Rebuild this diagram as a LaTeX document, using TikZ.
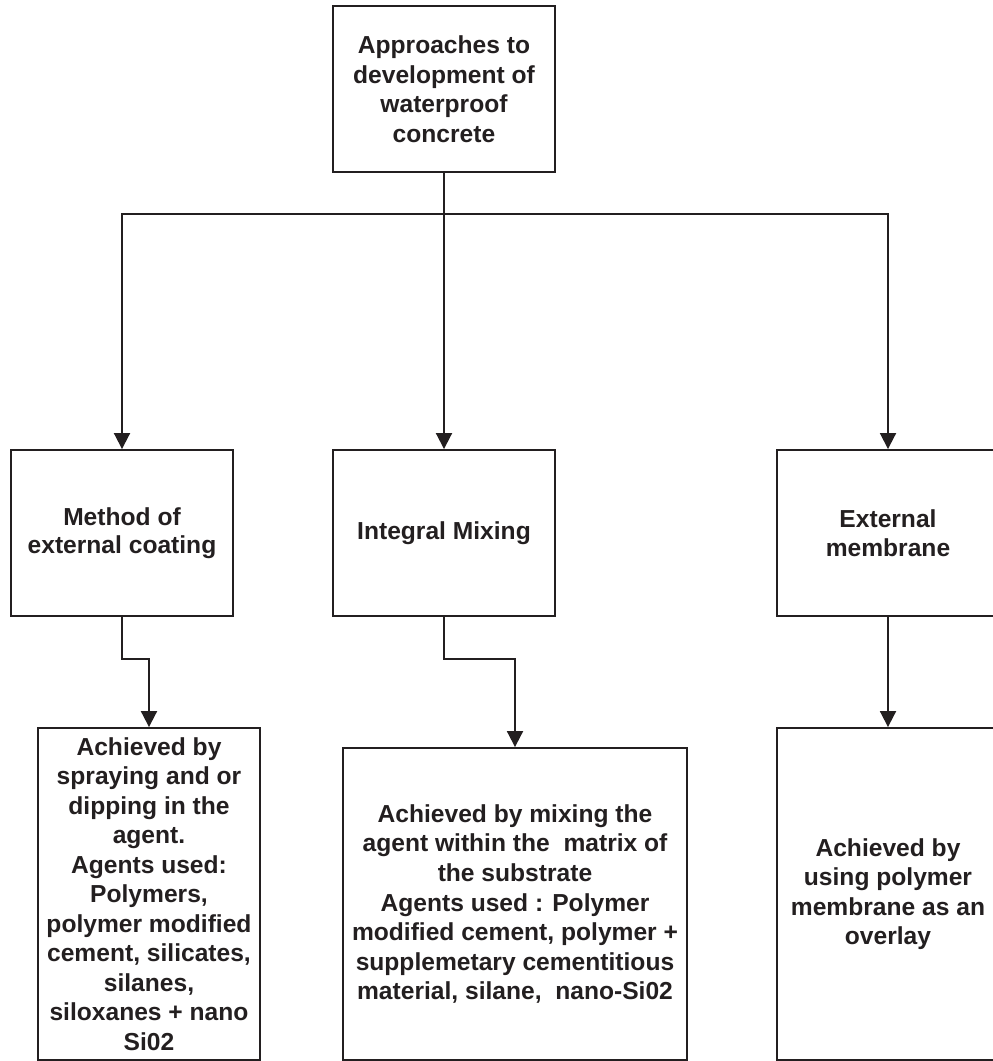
\documentclass[tikz,border=0pt]{standalone}
\usepackage{fontspec}
\setmainfont{Liberation Sans}
\usepackage{xcolor}
\usepackage{tikz}
\usetikzlibrary{arrows.meta}

\definecolor{ink}{HTML}{231F20}

\tikzset{
    box/.style={draw=ink, line width=1.1pt, rectangle, inner sep=2pt, align=center,
                text=ink, font=\fontsize{14}{16.8}\selectfont\bfseries},
    arr/.style={draw=ink, line width=1.1pt, -{Triangle[width=0.32cm,length=0.32cm]}}
}

\begin{document}
\begin{tikzpicture}[x=0.02cm, y=-0.02cm]
            \useasboundingbox (0,0) rectangle (993,1061);
            \clip (0,0) rectangle (993,1061);

            %% top
            \node[box, minimum width=4.44cm, minimum height=3.32cm] (top) at (444,89)
                {Approaches to\\development of\\waterproof\\concrete};

            %% approaches
            \node[box, minimum width=4.44cm, minimum height=3.32cm] (coat) at (122,533)
                {Method of\\[-0.6pt]external coating};
            \node[box, minimum width=4.44cm, minimum height=3.32cm] (mix)  at (444,533)
                {Integral Mixing};
            \node[box, minimum width=4.44cm, minimum height=3.32cm] (memb) at (888,533)
                {External\\[-0.6pt]membrane};

            %% details
            \node[box, minimum width=4.44cm, minimum height=6.64cm] (coatdet) at (149,894)
                {Achieved by\\spraying and or\\dipping in the\\agent.\\Agents used:\\Polymers,\\polymer modified\\cement, silicates,\\silanes,\\siloxanes + nano\\Si02};
            \node[box, minimum width=6.88cm, minimum height=6.24cm] (mixdet) at (515,904)
                {Achieved by mixing the\\agent within the~ matrix of\\the substrate\\Agents used : Polymer\\modified cement, polymer +\\supplemetary cementitious\\material, silane,~ nano-Si02};
            \node[box, minimum width=4.44cm, minimum height=6.64cm] (membdet) at (888,894)
                {Achieved by\\using polymer\\membrane as an\\overlay};

            % fork
            \coordinate (fork) at (444,214);
            \draw[draw=ink, line width=1.1pt] (top.south) -- (fork);
            \draw[arr] (fork) -| (coat.north);
            \draw[arr] (top.south) -- (mix.north);
            \draw[arr] (fork) -| (memb.north);

            % down
            \draw[arr] (coat.south) -- ++(0,42) -| (coatdet.north);
            \draw[arr] (mix.south)  -- ++(0,42) -| (mixdet.north);
            \draw[arr] (memb.south) -- (membdet.north);

        \end{tikzpicture}
\end{document}
